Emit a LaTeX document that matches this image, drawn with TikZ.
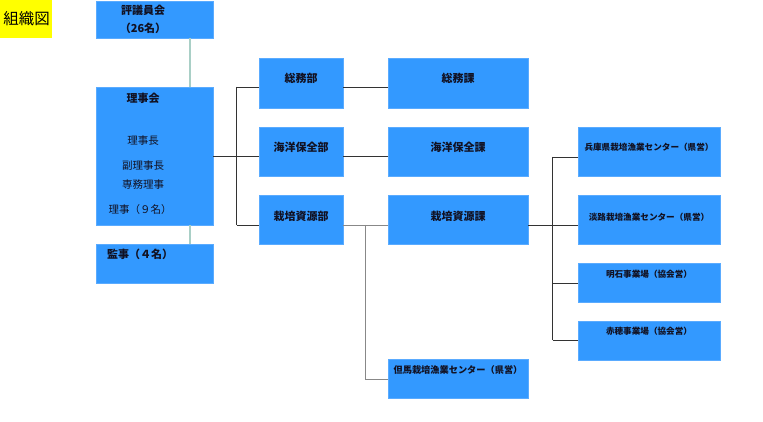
\documentclass[tikz,border=0pt]{standalone}
\usepackage{fontspec}
\setmainfont{Noto Sans CJK JP}
\usetikzlibrary{calc}
\definecolor{boxblue}{HTML}{3399FF}
\definecolor{boxedge}{HTML}{5AABFF}
\definecolor{lnc}{HTML}{333333}
\definecolor{lng}{HTML}{888888}
\definecolor{tealc}{HTML}{A9CFC6}
\definecolor{yel}{HTML}{FFFF00}
\definecolor{txt}{HTML}{111122}
\begin{document}
\begin{tikzpicture}[x=1pt,y=-1pt,
  box/.style={fill=boxblue,draw=boxedge,line width=0.6pt,inner sep=0pt},
  lbl/.style={text=txt,inner sep=0pt,font=\fontsize{11}{12}\selectfont\bfseries},
  lblr/.style={text=txt,inner sep=0pt,font=\fontsize{10.5}{12}\selectfont},
  sml/.style={text=txt,inner sep=0pt,font=\fontsize{8.6}{10}\selectfont\bfseries},
  ln/.style={draw=lnc,line width=0.8pt},
  lg/.style={draw=lng,line width=0.8pt},
  lt/.style={draw=tealc,line width=1.4pt}]
\useasboundingbox (0,0) rectangle (763,422);
\fill[white] (0,0) rectangle (763,422);
% title
\node[fill=yel,inner sep=0pt,minimum width=52pt,minimum height=38pt] (title) at (26,19) {};
\node[inner sep=0pt,font=\fontsize{15.5}{16}\selectfont] (titletxt) at (26.5,19) {組織図};
% left column
\node[box,minimum width=117pt,minimum height=37pt] (hyo) at (154.5,19.5) {};
\node[box,minimum width=117pt,minimum height=138pt] (riji) at (154.5,156) {};
\node[box,minimum width=117pt,minimum height=39pt] (kanji) at (154.5,263.5) {};
\coordinate (cx) at (190,0);
\draw[lt] (hyo.south -| cx) -- (riji.north -| cx);
\draw[lt] (riji.south -| cx) -- (kanji.north -| cx);
\node[lbl] (t1) at (143,10) {評議員会};
\node[lbl] (t2) at (143,28) {（26名）};
\node[lbl] (t3) at (143,98) {理事会};
\node[lblr] (t4) at (143,141) {理事長};
\node[lblr] (t5) at (143,165.5) {副理事長};
\node[lblr] (t6) at (143,184.5) {専務理事};
\node[lblr] (t7) at (140,209.5) {理事（９名）};
\node[lbl] (t8) at (140,254) {監事（４名）};
% departments
\node[box,minimum width=84pt,minimum height=50pt] (soumubu) at (301,83) {};
\node[box,minimum width=84pt,minimum height=49pt] (kaiyobu) at (301,151.5) {};
\node[box,minimum width=84pt,minimum height=49pt] (saibaibu) at (301,219.5) {};
\node[lbl] at (301,78) {総務部};
\node[lbl] at (301,147) {海洋保全部};
\node[lbl] at (301,216) {栽培資源部};
% sections
\node[box,minimum width=140pt,minimum height=50pt] (soumuka) at (458,83) {};
\node[box,minimum width=140pt,minimum height=49pt] (kaiyoka) at (458,151.5) {};
\node[box,minimum width=140pt,minimum height=49pt] (saibaika) at (458,219.5) {};
\node[box,minimum width=140pt,minimum height=39pt] (tajima) at (458,378.5) {};
\node[lbl] at (458,78) {総務課};
\node[lbl] at (458,147) {海洋保全課};
\node[lbl] at (458,216) {栽培資源課};
\node[sml,font=\fontsize{9.2}{10}\selectfont\bfseries] at (458,370) {但馬栽培漁業センター（県営）};
% centers
\node[box,minimum width=142pt,minimum height=49pt] (hyogo) at (649,151.5) {};
\node[box,minimum width=142pt,minimum height=49pt] (awaji) at (649,219.5) {};
\node[box,minimum width=142pt,minimum height=39pt] (akashi) at (649,282.5) {};
\node[box,minimum width=142pt,minimum height=39pt] (ako) at (649,340.5) {};
\node[sml] at (649,147) {兵庫県栽培漁業センター（県営）};
\node[sml] at (649,217) {淡路栽培漁業センター（県営）};
\node[sml] at (649,274) {明石事業場（協会営）};
\node[sml] at (649,331) {赤穂事業場（協会営）};
% connectors: board to departments
\draw[ln] (riji.east) -- ($(riji.east)+(24,0)$);
\draw[ln] ($(soumubu.west)+(-22,4)$) -- ($(saibaibu.west)+(-22,5.5)$);
\draw[ln] ($(soumubu.west)+(-22,4)$) -- ($(soumubu.west)+(0,4)$);
\draw[ln] ($(kaiyobu.west)+(-22,4.5)$) -- ($(kaiyobu.west)+(0,4.5)$);
\draw[ln] ($(saibaibu.west)+(-22,5.5)$) -- ($(saibaibu.west)+(0,5.5)$);
% departments to sections
\draw[ln] ($(soumubu.east)+(0,4)$) -- ($(soumuka.west)+(0,4)$);
\draw[ln] ($(kaiyobu.east)+(0,5)$) -- ($(kaiyoka.west)+(0,5)$);
\draw[lg] ($(saibaibu.east)+(0,5.5)$) -- ($(saibaika.west)+(0,5.5)$);
% tajima
\draw[lg] ($(saibaika.west)+(-22,5.5)$) -- ($(tajima.west)+(-22,0.5)$) -- ($(tajima.west)+(0,0.5)$);
% centers
\draw[ln] ($(saibaika.east)+(0,5.5)$) -- ($(saibaika.east)+(25,5.5)$);
\draw[ln] ($(hyogo.west)+(-25,5.5)$) -- ($(ako.west)+(-25,-0.5)$);
\draw[ln] ($(hyogo.west)+(-25,5.5)$) -- ($(hyogo.west)+(0,5.5)$);
\draw[ln] ($(awaji.west)+(-25,6)$) -- ($(awaji.west)+(0,6)$);
\draw[ln] ($(akashi.west)+(-25,0.5)$) -- ($(akashi.west)+(0,0.5)$);
\draw[ln] ($(ako.west)+(-25,-0.5)$) -- ($(ako.west)+(0,-0.5)$);
\end{tikzpicture}
\end{document}
